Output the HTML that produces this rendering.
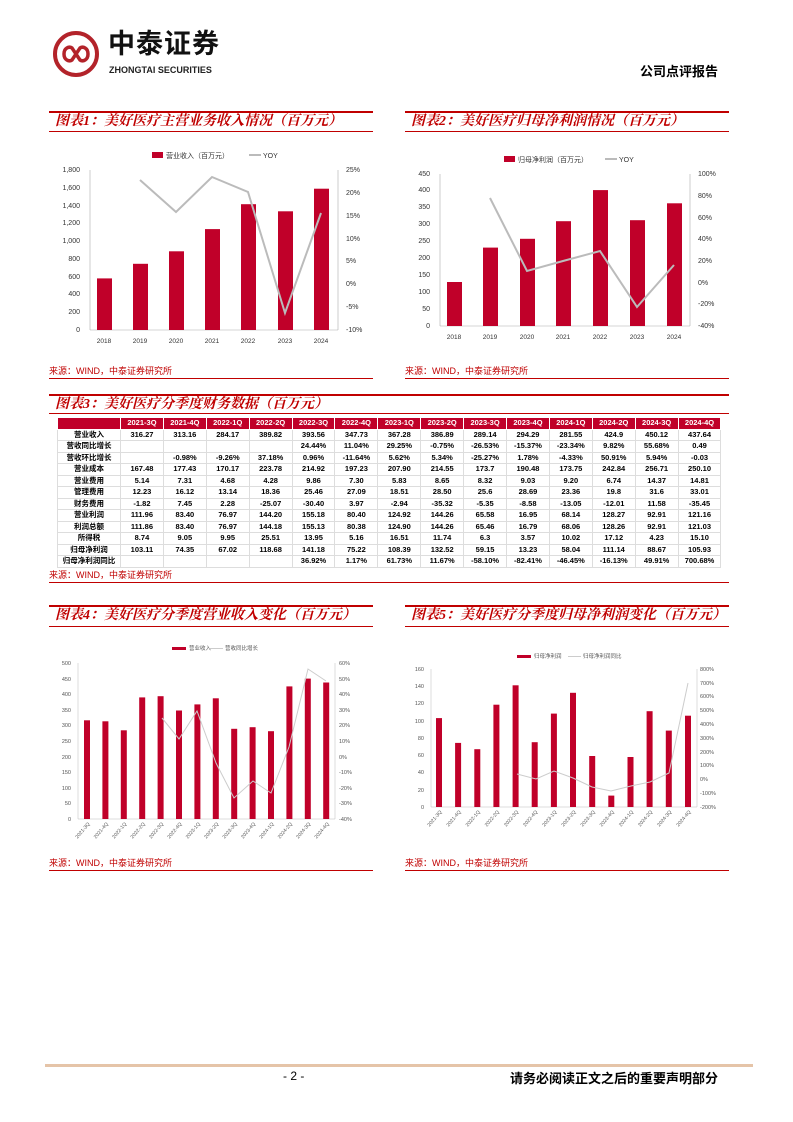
<!DOCTYPE html>
<html><head><meta charset="utf-8">
<style>
body{margin:0;width:793px;height:1122px;position:relative;background:#fff;font-family:"Liberation Sans","Noto Sans CJK SC",sans-serif;overflow:hidden}
.abs{position:absolute}
.tt{position:absolute;border-top:2px solid #c00000;border-bottom:1.5px solid #c00000;color:#c00000;font-weight:bold;font-style:italic;font-size:14px;line-height:18px;padding-left:6px;box-sizing:border-box;font-family:"Liberation Serif","Noto Serif CJK SC",serif}
.src{position:absolute;color:#c00000;font-size:9px;border-bottom:1px solid #c00000;box-sizing:border-box;line-height:12px}
table{position:absolute;left:57px;top:417px;border-collapse:collapse;font-size:7.5px;font-weight:bold;table-layout:fixed}
td{border:1px solid #ddd;height:10.5px;padding:0;text-align:center;line-height:10px;white-space:nowrap;overflow:hidden}
tr.h td{background:#c00029;color:#fff;border-color:#fff}
svg text{font-family:"Liberation Sans","Noto Sans CJK SC",sans-serif}
</style></head><body>
<svg class="abs" style="left:52px;top:30px" width="50" height="50"><circle cx="24" cy="24" r="21" fill="none" stroke="#b3232a" stroke-width="4"/><path d="M12 24c0-6 5-8 8-6l8 12c3 2 8 0 8-6s-5-8-8-6l-8 12c-3 2-8 0-8-6z" fill="none" stroke="#b3232a" stroke-width="3.5"/></svg>
<div class="abs" style="left:108px;top:28px;font-size:27px;line-height:32px;font-weight:bold;letter-spacing:1px;color:#111">中泰证券</div>
<div class="abs" style="left:109px;top:65px;font-size:9px;line-height:10px;font-weight:bold;color:#222">ZHONGTAI SECURITIES</div>
<div class="abs" style="left:640px;top:61px;font-size:13px;font-weight:bold">公司点评报告</div>

<div class="tt" style="left:49px;top:111px;width:324px;height:21px">图表1：美好医疗主营业务收入情况（百万元）</div>
<div class="tt" style="left:405px;top:111px;width:324px;height:21px">图表2：美好医疗归母净利润情况（百万元）</div>

<svg class="abs" style="left:49px;top:135px" width="330" height="215" font-size="7" fill="#333">
<rect x="103" y="17" width="11" height="6" fill="#c00029"/><text x="117" y="23">营业收入（百万元）</text>
<line x1="200" y1="20" x2="212" y2="20" stroke="#bbb" stroke-width="2"/><text x="214" y="23">YOY</text>
<line x1="41" y1="35" x2="41" y2="195" stroke="#aaa" stroke-width=".6"/><line x1="289" y1="35" x2="289" y2="195" stroke="#aaa" stroke-width=".6"/><line x1="41" y1="195" x2="289" y2="195" stroke="#aaa" stroke-width=".6"/>
<g text-anchor="end"><text x="31" y="197">0</text><text x="31" y="179">200</text><text x="31" y="161">400</text><text x="31" y="144">600</text><text x="31" y="126">800</text><text x="31" y="108">1,000</text><text x="31" y="90">1,200</text><text x="31" y="73">1,400</text><text x="31" y="55">1,600</text><text x="31" y="37">1,800</text></g>
<g><text x="297" y="197">-10%</text><text x="297" y="174">-5%</text><text x="297" y="151">0%</text><text x="297" y="128">5%</text><text x="297" y="106">10%</text><text x="297" y="83">15%</text><text x="297" y="60">20%</text><text x="297" y="37">25%</text></g>
<g fill="#c00029"><rect x="48" y="143.4" width="15" height="51.6"/><rect x="84" y="128.8" width="15" height="66.2"/><rect x="120" y="116.3" width="15" height="78.7"/><rect x="156" y="94.1" width="15" height="100.9"/><rect x="192" y="69.2" width="15" height="125.8"/><rect x="229" y="76.3" width="15" height="118.7"/><rect x="265" y="53.7" width="15" height="141.3"/></g>
<polyline points="91,45 127,77 163,42 199,57 236,178 272,78" fill="none" stroke="#bbb" stroke-width="2"/>
<g text-anchor="middle" font-size="6.5"><text x="55" y="208">2018</text><text x="91" y="208">2019</text><text x="127" y="208">2020</text><text x="163" y="208">2021</text><text x="199" y="208">2022</text><text x="236" y="208">2023</text><text x="272" y="208">2024</text></g>
</svg>
<svg class="abs" style="left:405px;top:135px" width="330" height="215" font-size="7" fill="#333">
<rect x="99" y="21" width="11" height="6" fill="#c00029"/><text x="113" y="27">归母净利润（百万元）</text>
<line x1="200" y1="24" x2="212" y2="24" stroke="#bbb" stroke-width="2"/><text x="214" y="27">YOY</text>
<line x1="35" y1="39" x2="35" y2="191" stroke="#aaa" stroke-width=".6"/><line x1="285" y1="39" x2="285" y2="191" stroke="#aaa" stroke-width=".6"/><line x1="35" y1="191" x2="285" y2="191" stroke="#aaa" stroke-width=".6"/>
<g text-anchor="end"><text x="25" y="193">0</text><text x="25" y="176">50</text><text x="25" y="159">100</text><text x="25" y="142">150</text><text x="25" y="125">200</text><text x="25" y="108">250</text><text x="25" y="91">300</text><text x="25" y="74">350</text><text x="25" y="57">400</text><text x="25" y="41">450</text></g>
<g><text x="293" y="193">-40%</text><text x="293" y="171">-20%</text><text x="293" y="150">0%</text><text x="293" y="128">20%</text><text x="293" y="106">40%</text><text x="293" y="85">60%</text><text x="293" y="63">80%</text><text x="293" y="41">100%</text></g>
<g fill="#c00029"><rect x="42" y="147" width="15" height="44"/><rect x="78" y="112.6" width="15" height="78.4"/><rect x="115" y="103.8" width="15" height="87.2"/><rect x="151" y="86.2" width="15" height="104.8"/><rect x="188" y="55.1" width="15" height="135.9"/><rect x="225" y="85.2" width="15" height="105.8"/><rect x="262" y="68.3" width="15" height="122.7"/></g>
<polyline points="85,63 122,136 158,126 195,116 232,172 269,130" fill="none" stroke="#bbb" stroke-width="2"/>
<g text-anchor="middle" font-size="6.5"><text x="49" y="204">2018</text><text x="85" y="204">2019</text><text x="122" y="204">2020</text><text x="158" y="204">2021</text><text x="195" y="204">2022</text><text x="232" y="204">2023</text><text x="269" y="204">2024</text></g>
</svg>
<div class="src" style="left:49px;top:365px;width:324px;height:14px">来源：WIND，中泰证券研究所</div>
<div class="src" style="left:405px;top:365px;width:324px;height:14px">来源：WIND，中泰证券研究所</div>

<div class="tt" style="left:49px;top:394px;width:680px;height:20px">图表3：美好医疗分季度财务数据（百万元）</div>
<table>
<colgroup><col style="width:63px"><col span="14" style="width:42.9px"></colgroup>
<tr class="h"><td></td><td>2021-3Q</td><td>2021-4Q</td><td>2022-1Q</td><td>2022-2Q</td><td>2022-3Q</td><td>2022-4Q</td><td>2023-1Q</td><td>2023-2Q</td><td>2023-3Q</td><td>2023-4Q</td><td>2024-1Q</td><td>2024-2Q</td><td>2024-3Q</td><td>2024-4Q</td></tr>
<tr><td>营业收入</td><td>316.27</td><td>313.16</td><td>284.17</td><td>389.82</td><td>393.56</td><td>347.73</td><td>367.28</td><td>386.89</td><td>289.14</td><td>294.29</td><td>281.55</td><td>424.9</td><td>450.12</td><td>437.64</td></tr>
<tr><td>营收同比增长</td><td></td><td></td><td></td><td></td><td>24.44%</td><td>11.04%</td><td>29.25%</td><td>-0.75%</td><td>-26.53%</td><td>-15.37%</td><td>-23.34%</td><td>9.82%</td><td>55.68%</td><td>0.49</td></tr>
<tr><td>营收环比增长</td><td></td><td>-0.98%</td><td>-9.26%</td><td>37.18%</td><td>0.96%</td><td>-11.64%</td><td>5.62%</td><td>5.34%</td><td>-25.27%</td><td>1.78%</td><td>-4.33%</td><td>50.91%</td><td>5.94%</td><td>-0.03</td></tr>
<tr><td>营业成本</td><td>167.48</td><td>177.43</td><td>170.17</td><td>223.78</td><td>214.92</td><td>197.23</td><td>207.90</td><td>214.55</td><td>173.7</td><td>190.48</td><td>173.75</td><td>242.84</td><td>256.71</td><td>250.10</td></tr>
<tr><td>营业费用</td><td>5.14</td><td>7.31</td><td>4.68</td><td>4.28</td><td>9.86</td><td>7.30</td><td>5.83</td><td>8.65</td><td>8.32</td><td>9.03</td><td>9.20</td><td>6.74</td><td>14.37</td><td>14.81</td></tr>
<tr><td>管理费用</td><td>12.23</td><td>16.12</td><td>13.14</td><td>18.36</td><td>25.46</td><td>27.09</td><td>18.51</td><td>28.50</td><td>25.6</td><td>28.69</td><td>23.36</td><td>19.8</td><td>31.6</td><td>33.01</td></tr>
<tr><td>财务费用</td><td>-1.82</td><td>7.45</td><td>2.28</td><td>-25.07</td><td>-30.40</td><td>3.97</td><td>-2.94</td><td>-35.32</td><td>-5.35</td><td>-8.58</td><td>-13.05</td><td>-12.01</td><td>11.58</td><td>-35.45</td></tr>
<tr><td>营业利润</td><td>111.96</td><td>83.40</td><td>76.97</td><td>144.20</td><td>155.18</td><td>80.40</td><td>124.92</td><td>144.26</td><td>65.58</td><td>16.95</td><td>68.14</td><td>128.27</td><td>92.91</td><td>121.16</td></tr>
<tr><td>利润总额</td><td>111.86</td><td>83.40</td><td>76.97</td><td>144.18</td><td>155.13</td><td>80.38</td><td>124.90</td><td>144.26</td><td>65.46</td><td>16.79</td><td>68.06</td><td>128.26</td><td>92.91</td><td>121.03</td></tr>
<tr><td>所得税</td><td>8.74</td><td>9.05</td><td>9.95</td><td>25.51</td><td>13.95</td><td>5.16</td><td>16.51</td><td>11.74</td><td>6.3</td><td>3.57</td><td>10.02</td><td>17.12</td><td>4.23</td><td>15.10</td></tr>
<tr><td>归母净利润</td><td>103.11</td><td>74.35</td><td>67.02</td><td>118.68</td><td>141.18</td><td>75.22</td><td>108.39</td><td>132.52</td><td>59.15</td><td>13.23</td><td>58.04</td><td>111.14</td><td>88.67</td><td>105.93</td></tr>
<tr><td>归母净利润同比</td><td></td><td></td><td></td><td></td><td>36.92%</td><td>1.17%</td><td>61.73%</td><td>11.67%</td><td>-58.10%</td><td>-82.41%</td><td>-46.45%</td><td>-16.13%</td><td>49.91%</td><td>700.68%</td></tr>
</table>
<div class="src" style="left:49px;top:569px;width:680px;height:14px;border-bottom:1.5px solid #c00000">来源：WIND，中泰证券研究所</div>

<div class="tt" style="left:49px;top:605px;width:324px;height:22px">图表4：美好医疗分季度营业收入变化（百万元）</div>
<div class="tt" style="left:405px;top:605px;width:324px;height:22px">图表5：美好医疗分季度归母净利润变化（百万元）</div>

<svg class="abs" style="left:0;top:630px" width="400" height="220" font-size="5.5" fill="#555">
<rect x="172" y="17" width="14" height="3" fill="#c00029"/><text x="189" y="20">营业收入</text>
<line x1="210" y1="18.5" x2="223" y2="18.5" stroke="#ccc"/><text x="225" y="20">营收同比增长</text>
<line x1="78" y1="33" x2="78" y2="189" stroke="#bbb" stroke-width=".5"/><line x1="335" y1="33" x2="335" y2="189" stroke="#bbb" stroke-width=".5"/><line x1="78" y1="189" x2="335" y2="189" stroke="#bbb" stroke-width=".5"/>
<g text-anchor="end"><text x="71" y="191">0</text><text x="71" y="175">50</text><text x="71" y="160">100</text><text x="71" y="144">150</text><text x="71" y="129">200</text><text x="71" y="113">250</text><text x="71" y="97">300</text><text x="71" y="82">350</text><text x="71" y="66">400</text><text x="71" y="51">450</text><text x="71" y="35">500</text></g>
<g><text x="339" y="191">-40%</text><text x="339" y="175">-30%</text><text x="339" y="160">-20%</text><text x="339" y="144">-10%</text><text x="339" y="129">0%</text><text x="339" y="113">10%</text><text x="339" y="97">20%</text><text x="339" y="82">30%</text><text x="339" y="66">40%</text><text x="339" y="51">50%</text><text x="339" y="35">60%</text></g>
<g fill="#c00029">
<rect x="84" y="90.3" width="6" height="98.7"/><rect x="102.4" y="91.3" width="6" height="97.7"/><rect x="120.8" y="100.3" width="6" height="88.7"/><rect x="139.2" y="67.4" width="6" height="121.6"/><rect x="157.6" y="66.2" width="6" height="122.8"/><rect x="176" y="80.5" width="6" height="108.5"/><rect x="194.4" y="74.4" width="6" height="114.6"/><rect x="212.8" y="68.3" width="6" height="120.7"/><rect x="231.2" y="98.8" width="6" height="90.2"/><rect x="249.6" y="97.2" width="6" height="91.8"/><rect x="268" y="101.2" width="6" height="87.8"/><rect x="286.4" y="56.4" width="6" height="132.6"/><rect x="304.8" y="48.6" width="6" height="140.4"/><rect x="323.2" y="52.5" width="6" height="136.5"/></g>
<polyline points="162,88 179,109 197,81 216,133 234,168 253,151 271,163 289,117 308,39 326,51" fill="none" stroke="#ccc" stroke-width="1"/>
<g text-anchor="end" font-size="5">
<text transform="translate(90,194) rotate(-50)">2021-3Q</text><text transform="translate(108.4,194) rotate(-50)">2021-4Q</text><text transform="translate(126.8,194) rotate(-50)">2022-1Q</text><text transform="translate(145.2,194) rotate(-50)">2022-2Q</text><text transform="translate(163.6,194) rotate(-50)">2022-3Q</text><text transform="translate(182,194) rotate(-50)">2022-4Q</text><text transform="translate(200.4,194) rotate(-50)">2023-1Q</text><text transform="translate(218.8,194) rotate(-50)">2023-2Q</text><text transform="translate(237.2,194) rotate(-50)">2023-3Q</text><text transform="translate(255.6,194) rotate(-50)">2023-4Q</text><text transform="translate(274,194) rotate(-50)">2024-1Q</text><text transform="translate(292.4,194) rotate(-50)">2024-2Q</text><text transform="translate(310.8,194) rotate(-50)">2024-3Q</text><text transform="translate(329.2,194) rotate(-50)">2024-4Q</text></g>
</svg>
<svg class="abs" style="left:400px;top:630px" width="340" height="220" font-size="5.5" fill="#555">
<rect x="117" y="25" width="14" height="3" fill="#c00029"/><text x="134" y="28">归母净利润</text>
<line x1="168" y1="26.5" x2="181" y2="26.5" stroke="#ccc"/><text x="183" y="28">归母净利润同比</text>
<line x1="31" y1="39" x2="31" y2="177" stroke="#bbb" stroke-width=".5"/><line x1="297" y1="39" x2="297" y2="177" stroke="#bbb" stroke-width=".5"/><line x1="31" y1="177" x2="297" y2="177" stroke="#bbb" stroke-width=".5"/>
<g text-anchor="end"><text x="24" y="179">0</text><text x="24" y="162">20</text><text x="24" y="144">40</text><text x="24" y="127">60</text><text x="24" y="110">80</text><text x="24" y="93">100</text><text x="24" y="75">120</text><text x="24" y="58">140</text><text x="24" y="41">160</text></g>
<g><text x="300" y="179">-200%</text><text x="300" y="165">-100%</text><text x="300" y="151">0%</text><text x="300" y="137">100%</text><text x="300" y="124">200%</text><text x="300" y="110">300%</text><text x="300" y="96">400%</text><text x="300" y="82">500%</text><text x="300" y="68">600%</text><text x="300" y="55">700%</text><text x="300" y="41">800%</text></g>
<g fill="#c00029">
<rect x="36" y="88.1" width="6" height="88.9"/><rect x="55.1" y="112.9" width="6" height="64.1"/><rect x="74.3" y="119.2" width="6" height="57.8"/><rect x="93.4" y="74.7" width="6" height="102.3"/><rect x="112.6" y="55.3" width="6" height="121.7"/><rect x="131.7" y="112.2" width="6" height="64.8"/><rect x="150.9" y="83.6" width="6" height="93.4"/><rect x="170" y="62.8" width="6" height="114.2"/><rect x="189.2" y="126" width="6" height="51"/><rect x="208.3" y="165.6" width="6" height="11.4"/><rect x="227.5" y="127" width="6" height="50"/><rect x="246.6" y="81.2" width="6" height="95.8"/><rect x="265.8" y="100.6" width="6" height="76.4"/><rect x="285" y="85.7" width="6" height="91.3"/></g>
<polyline points="117,144 136,149 154,141 173,148 192,157 211,161 231,156 250,152 269,143 288,53" fill="none" stroke="#ccc" stroke-width="1"/>
<g text-anchor="end" font-size="5">
<text transform="translate(42,182) rotate(-50)">2021-3Q</text><text transform="translate(61.1,182) rotate(-50)">2021-4Q</text><text transform="translate(80.3,182) rotate(-50)">2022-1Q</text><text transform="translate(99.4,182) rotate(-50)">2022-2Q</text><text transform="translate(118.6,182) rotate(-50)">2022-3Q</text><text transform="translate(137.7,182) rotate(-50)">2022-4Q</text><text transform="translate(156.9,182) rotate(-50)">2023-1Q</text><text transform="translate(176,182) rotate(-50)">2023-2Q</text><text transform="translate(195.2,182) rotate(-50)">2023-3Q</text><text transform="translate(214.3,182) rotate(-50)">2023-4Q</text><text transform="translate(233.5,182) rotate(-50)">2024-1Q</text><text transform="translate(252.6,182) rotate(-50)">2024-2Q</text><text transform="translate(271.8,182) rotate(-50)">2024-3Q</text><text transform="translate(291,182) rotate(-50)">2024-4Q</text></g>
</svg>
<div class="src" style="left:49px;top:857px;width:324px;height:14px">来源：WIND，中泰证券研究所</div>
<div class="src" style="left:405px;top:857px;width:324px;height:14px">来源：WIND，中泰证券研究所</div>

<div class="abs" style="left:45px;top:1064px;width:708px;height:3px;background:#e5c4a8"></div>
<div class="abs" style="left:283px;top:1069px;font-size:12px">- 2 -</div>
<div class="abs" style="left:510px;top:1068px;font-size:13px;font-weight:bold">请务必阅读正文之后的重要声明部分</div>
</body></html>
